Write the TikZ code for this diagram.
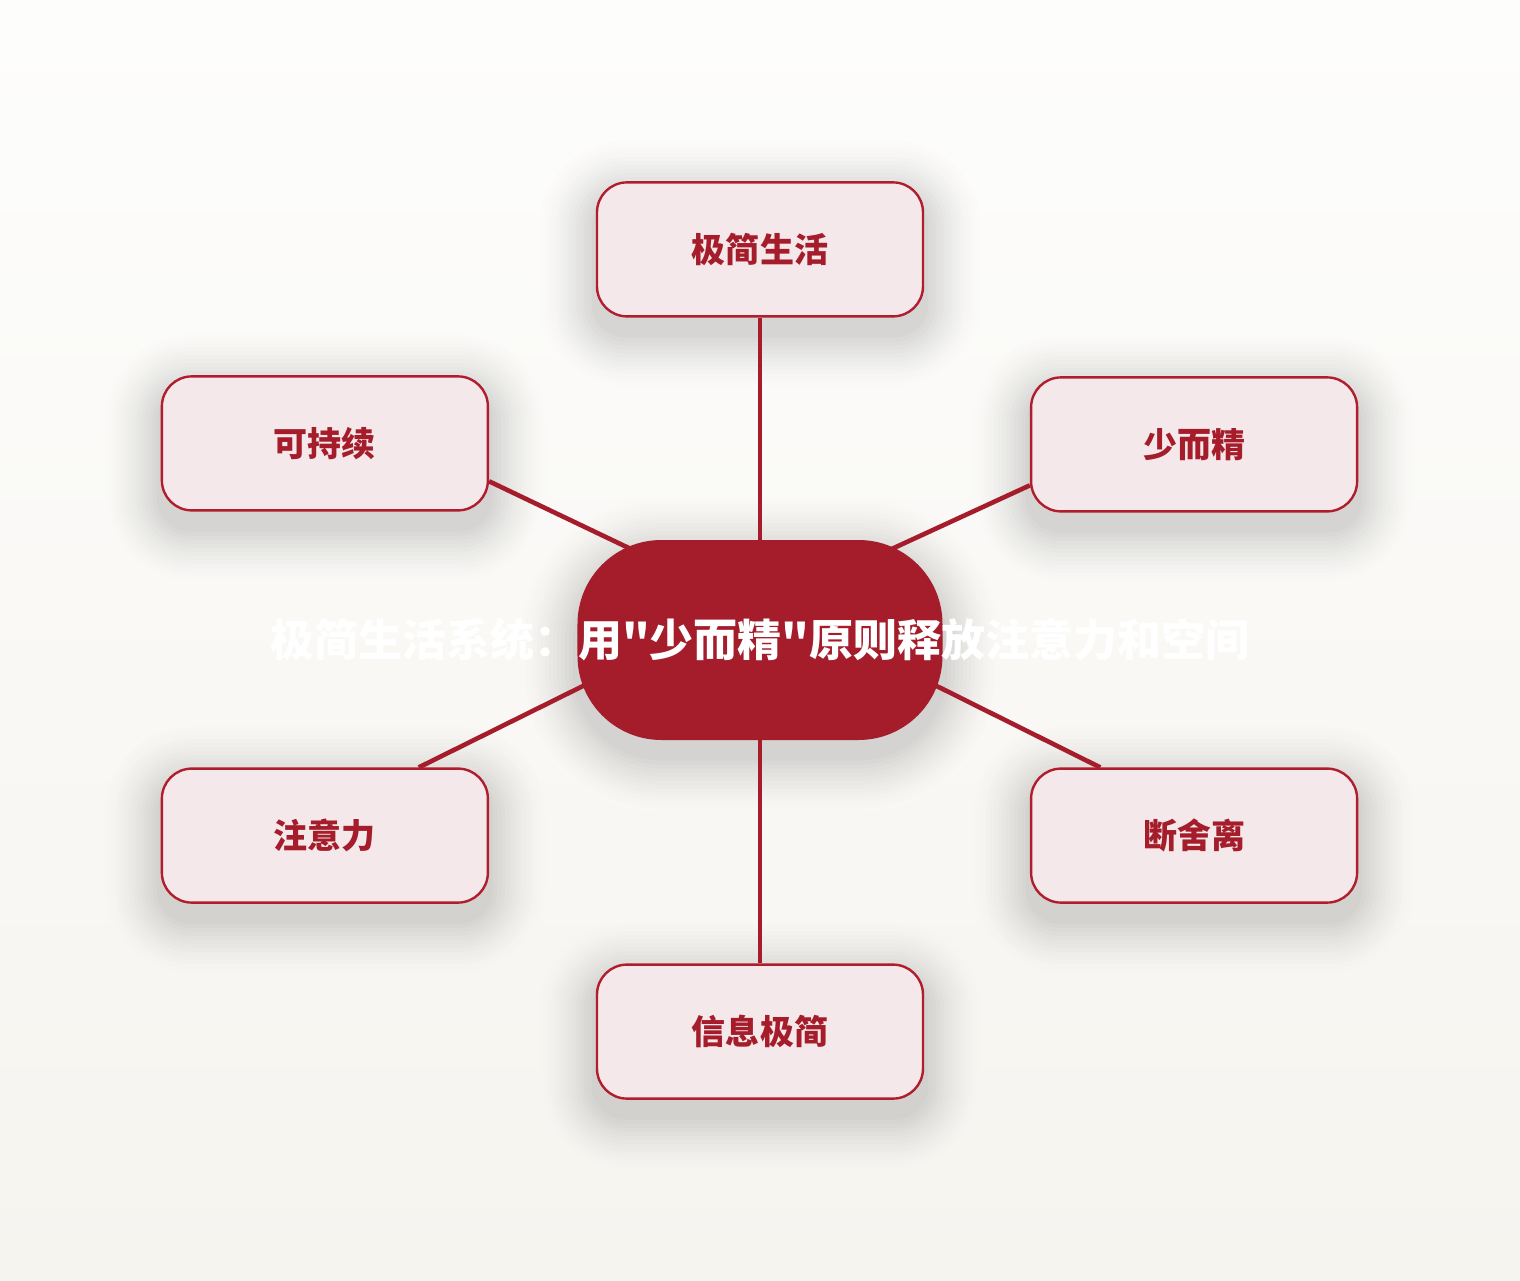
\documentclass[tikz,border=0pt]{standalone}
\usepackage{fontspec}
\newfontfamily\cjk{Noto Sans CJK SC}
\usetikzlibrary{positioning}
\definecolor{primary}{HTML}{A51C2B}
\definecolor{boxfill}{HTML}{F5E8EB}
\definecolor{boxline}{HTML}{B01E2D}
\definecolor{bgtop}{HTML}{FDFDFC}
\definecolor{bgbottom}{HTML}{F6F4EF}
\pgfdeclarelayer{canvas}
\pgfdeclarelayer{links}
\pgfsetlayers{canvas,links,main}

\begin{document}
\begin{tikzpicture}[
        node distance=111pt,
        hub/.style={fill=primary, minimum width=182.5pt, minimum height=100pt, rounded corners=42pt},
        slogan/.style={text=white, font={\cjk\bfseries\fontsize{22pt}{26pt}\selectfont}},
        idea/.style={draw=boxline, line width=1.2pt, fill=boxfill, minimum width=163pt, minimum height=67pt, rounded corners=15pt, text=primary, font={\cjk\bfseries\fontsize{17pt}{20pt}\selectfont}},
        link/.style={primary, line width=2.3pt}
    ]
        \useasboundingbox (-380pt,-320pt) rectangle (380pt,320pt);
        \begin{pgfonlayer}{canvas}
            \shade[top color=bgtop, bottom color=bgbottom] (-380pt,-320pt) rectangle (380pt,320pt);
        \end{pgfonlayer}

        \node[hub] (hub) at (0,0) {};
        \node[slogan] (title) at (hub.center) {极简生活系统：用"少而精"原则释放注意力和空间};
        \coordinate (hub-nw) at ([xshift=-30pt, yshift=29pt]hub.center);
        \coordinate (hub-ne) at ([xshift=30pt, yshift=29pt]hub.center);
        \coordinate (hub-sw) at ([xshift=-30pt, yshift=6pt]hub.center);
        \coordinate (hub-se) at ([xshift=30pt, yshift=6pt]hub.center);

        \node[idea, above=111pt of hub] (life) {极简生活};
        \node[idea, above right=13.5pt and 43.5pt of hub] (less) {少而精};
        \node[idea, below right=13.5pt and 43.5pt of hub] (declutter) {断舍离};
        \node[idea, below=111.5pt of hub] (info) {信息极简};
        \node[idea, below left=13.5pt and 44pt of hub] (focus) {注意力};
        \node[idea, above left=14pt and 44pt of hub] (sustain) {可持续};

        % soft shadows, drawn as rings from light to dark
        \begin{pgfonlayer}{canvas}
            \foreach \n/\rc/\p in {life/15/20, sustain/15/35, less/15/35, focus/15/65, declutter/15/65, info/15/80, hub/42/50}{
                \colorlet{shadowbase}{bgbottom!\p!bgtop}
                \foreach \k [evaluate=\k as \dd using 2*\k, evaluate=\k as \rr using \rc+2*\k, evaluate=\k as \ss using 15*((15-\k)/14)^1.5] in {14,...,1}
                    \fill[black!\ss!shadowbase, rounded corners=\rr pt]
                        ([xshift=-\dd pt, yshift=-8pt-\dd pt]\n.south west) rectangle ([xshift=\dd pt, yshift=-8pt+\dd pt]\n.north east);
            }
        \end{pgfonlayer}

        \begin{pgfonlayer}{links}
            \draw[link] (life.south) -- (hub.center);
            \draw[link] (less.-166) -- (hub-ne);
            \draw[link] (declutter.144) -- (hub-se);
            \draw[link] (info.north) -- (hub.center);
            \draw[link] (focus.36) -- (hub-sw);
            \draw[link] (sustain.-13.5) -- (hub-nw);
        \end{pgfonlayer}
    \end{tikzpicture}
\end{document}
